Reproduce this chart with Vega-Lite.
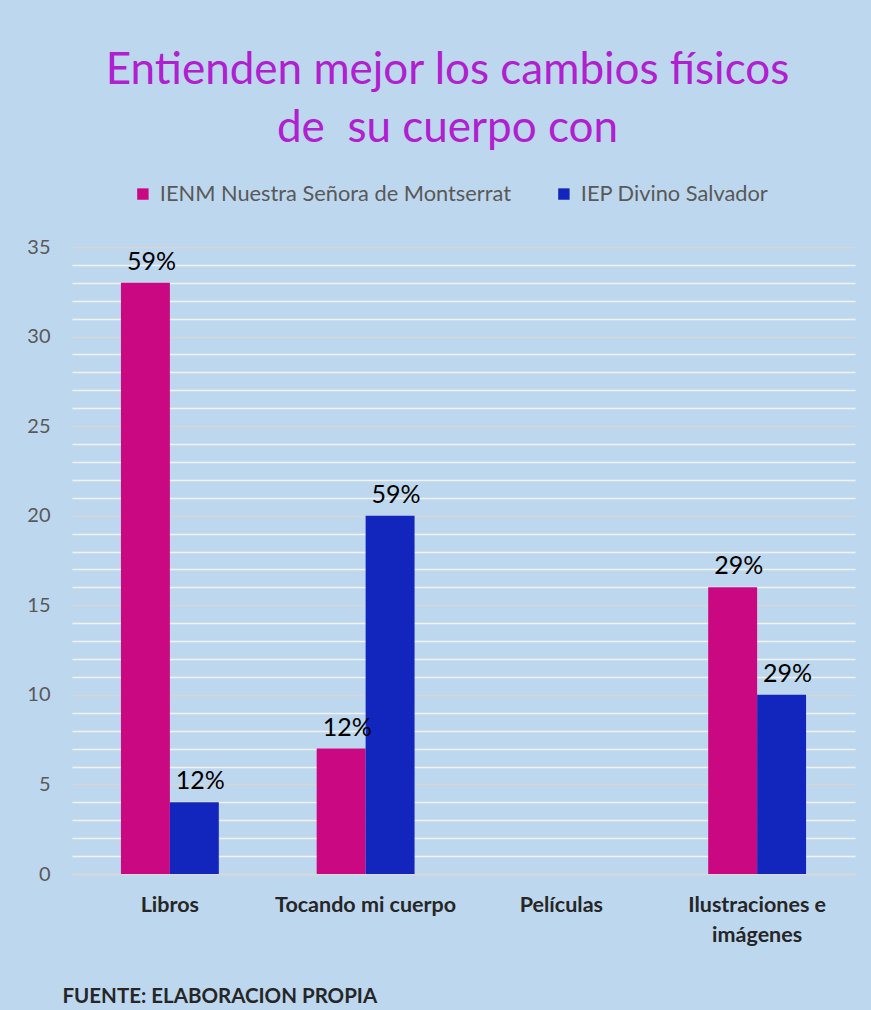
{
  "$schema": "https://vega.github.io/schema/vega-lite/v6.json",
  "width": 783,
  "height": 627,
  "autosize": {"type": "none"},
  "padding": {"left": 72, "top": 247, "right": 16, "bottom": 136},
  "background": "#BDD7EE",
  "title": {
    "text": ["Entienden mejor los cambios físicos", "de\u00a0 su cuerpo con"],
    "font": "Lato",
    "fontSize": 44,
    "fontWeight": "normal",
    "color": "#B020D0",
    "lineHeight": 58,
    "anchor": "middle",
    "dx": -16,
    "offset": 32
  },
  "data": {
    "values": [
      {"categoria": "Libros", "institucion": "IENM Nuestra Señora de Montserrat", "valor": 33, "pct": "59%"},
      {"categoria": "Libros", "institucion": "IEP Divino Salvador", "valor": 4, "pct": "12%"},
      {"categoria": "Tocando mi cuerpo", "institucion": "IENM Nuestra Señora de Montserrat", "valor": 7, "pct": "12%"},
      {"categoria": "Tocando mi cuerpo", "institucion": "IEP Divino Salvador", "valor": 20, "pct": "59%"},
      {"categoria": "Películas", "institucion": "IENM Nuestra Señora de Montserrat", "valor": 0, "pct": ""},
      {"categoria": "Películas", "institucion": "IEP Divino Salvador", "valor": 0, "pct": ""},
      {"categoria": "Ilustraciones e imágenes", "institucion": "IENM Nuestra Señora de Montserrat", "valor": 16, "pct": "29%"},
      {"categoria": "Ilustraciones e imágenes", "institucion": "IEP Divino Salvador", "valor": 10, "pct": "29%"}
    ]
  },
  "encoding": {
    "x": {
      "field": "categoria",
      "type": "nominal",
      "sort": null,
      "scale": {"paddingInner": 0.5, "paddingOuter": 0.25},
      "axis": {
        "title": "FUENTE: ELABORACION PROPIA",
        "titleFont": "Lato",
        "titleFontSize": 20.5,
        "titleFontWeight": "bold",
        "titleColor": "#262626",
        "titleAnchor": "start",
        "titleAlign": "left",
        "titleBaseline": "alphabetic",
        "titleX": -10,
        "titleY": 128,
        "labelAngle": 0,
        "labelFont": "Lato",
        "labelFontSize": 21.5,
        "labelFontWeight": "bold",
        "labelColor": "#262626",
        "labelPadding": 20,
        "labelLineHeight": 30,
        "labelLimit": 400,
        "labelExpr": "datum.value == 'Ilustraciones e imágenes' ? ['Ilustraciones e', 'imágenes'] : datum.label",
        "ticks": false,
        "domainColor": "#D9D9D9",
        "domainWidth": 1.5
      }
    },
    "xOffset": {"field": "institucion", "type": "nominal", "sort": null},
    "y": {
      "field": "valor",
      "type": "quantitative",
      "scale": {"domain": [0, 35], "nice": false},
      "axis": {
        "title": null,
        "values": [0,1,2,3,4,5,6,7,8,9,10,11,12,13,14,15,16,17,18,19,20,21,22,23,24,25,26,27,28,29,30,31,32,33,34,35],
        "labelExpr": "datum.value % 5 === 0 ? datum.label : ''",
        "labelFont": "Lato",
        "labelFontSize": 20,
        "labelColor": "#595959",
        "labelPadding": 22,
        "ticks": false,
        "domain": false,
        "grid": true,
        "gridColor": {"condition": {"test": "datum.value % 5 === 0", "value": "#D6D6D6"}, "value": "#F2F2F2"},
        "gridWidth": 1.5
      }
    }
  },
  "layer": [
    {
      "mark": {"type": "bar"},
      "encoding": {
        "color": {
          "field": "institucion",
          "type": "nominal",
          "sort": null,
          "scale": {"range": ["#C90881", "#1226BD"]},
          "legend": {
            "title": null,
            "orient": "none",
            "legendX": 60,
            "legendY": -64,
            "direction": "horizontal",
            "symbolType": "square",
            "symbolSize": 130,
            "symbolStrokeWidth": 0,
            "labelFont": "Lato",
            "labelFontSize": 21.8,
            "labelColor": "#595959",
            "labelOffset": 6,
            "labelLimit": 1000,
            "columnPadding": 42
          }
        }
      }
    },
    {
      "mark": {"type": "text", "baseline": "bottom", "dy": -8, "dx": 6, "font": "Lato", "fontSize": 25, "color": "#000000"},
      "encoding": {
        "text": {"field": "pct", "type": "nominal"}
      }
    }
  ],
  "config": {
    "view": {"stroke": null}
  }
}
